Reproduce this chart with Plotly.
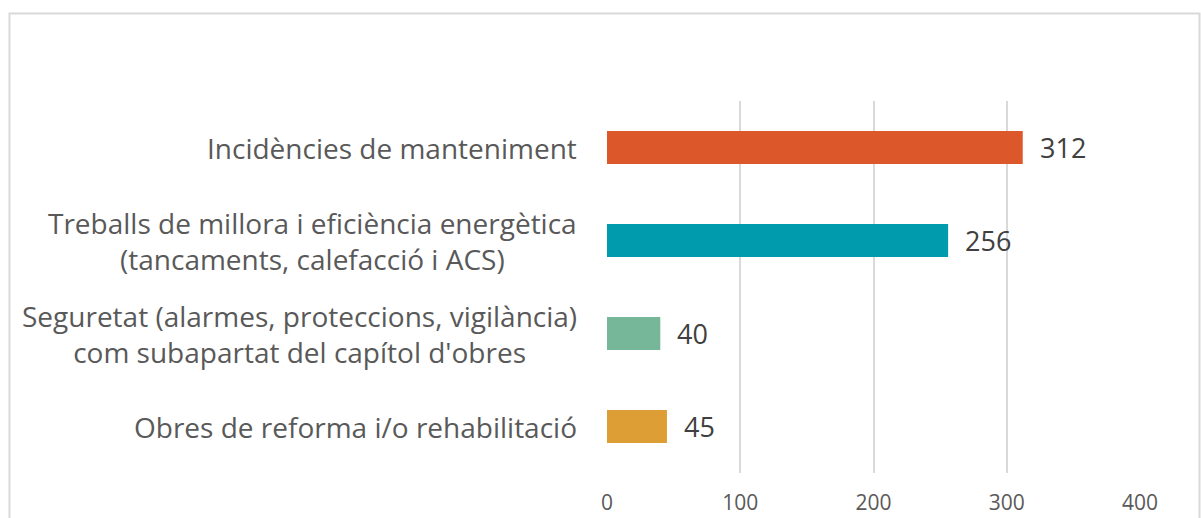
import plotly.graph_objects as go

categories = [
    "Obres de reforma i/o rehabilitació",
    "Seguretat (alarmes, proteccions, vigilància)<br>com subapartat del capítol d'obres",
    "Treballs de millora i eficiència energètica<br>(tancaments, calefacció i ACS)",
    "Incidències de manteniment",
]
values = [45, 40, 256, 312]
colors = ["#DE9E36", "#77B799", "#009BAD", "#DC582A"]
x_ticks = [0, 100, 200, 300, 400]

W, H = 1201, 518
ML, MR, MT, MB = 607, 61, 101, 45
FONT = "Open Sans"

fig = go.Figure()
fig.add_trace(go.Bar(
    y=categories, x=values, orientation="h",
    marker=dict(color=colors, line=dict(width=0)),
    width=0.355, hoverinfo="skip",
))

annotations = []
for c, v in zip(categories, values):
    annotations.append(dict(
        x=v, y=c, xref="x", yref="y", text=str(v), showarrow=False,
        xanchor="left", yanchor="middle", xshift=15,
        font=dict(family=FONT, size=27, color="#404040"),
    ))
    annotations.append(dict(
        x=0, y=c, xref="paper", yref="y", text=c, showarrow=False,
        xanchor="right", yanchor="middle", xshift=-28, align="center",
        font=dict(family=FONT, size=28, color="#595959"),
    ))

pw = W - ML - MR
ph = H - MT - MB
def px_x(p):
    return (p - ML) / pw
def px_y(p):
    return 1 - (p - MT) / ph

fig.update_layout(
    width=W, height=H,
    margin=dict(l=ML, r=MR, t=MT, b=MB, pad=0, autoexpand=False),
    paper_bgcolor="white", plot_bgcolor="white",
    showlegend=False,
    bargap=0.645,
    xaxis=dict(
        range=[0, 400], tickvals=x_ticks, ticktext=[str(t) for t in x_ticks],
        showgrid=True, gridcolor="#D9D9D9", gridwidth=1.5,
        zeroline=False, showline=False, ticks="",
        tickfont=dict(family=FONT, size=21, color="#595959"),
        ticklabelstandoff=15, fixedrange=True, automargin=False,
    ),
    yaxis=dict(
        showticklabels=False, showgrid=False, zeroline=False, showline=False,
        categoryorder="array", categoryarray=categories, fixedrange=True,
        automargin=False,
    ),
    annotations=annotations,
    shapes=[dict(
        type="rect", xref="paper", yref="paper",
        x0=px_x(9.5), x1=px_x(1199.5), y0=px_y(560), y1=px_y(13.5),
        line=dict(color="#D9D9D9", width=2), fillcolor="rgba(0,0,0,0)",
        layer="below",
    )],
)

fig.write_html(
    "out.html",
    config={"displayModeBar": False},
    post_script="document.body.style.margin='0';document.body.style.overflow='hidden';",
)
